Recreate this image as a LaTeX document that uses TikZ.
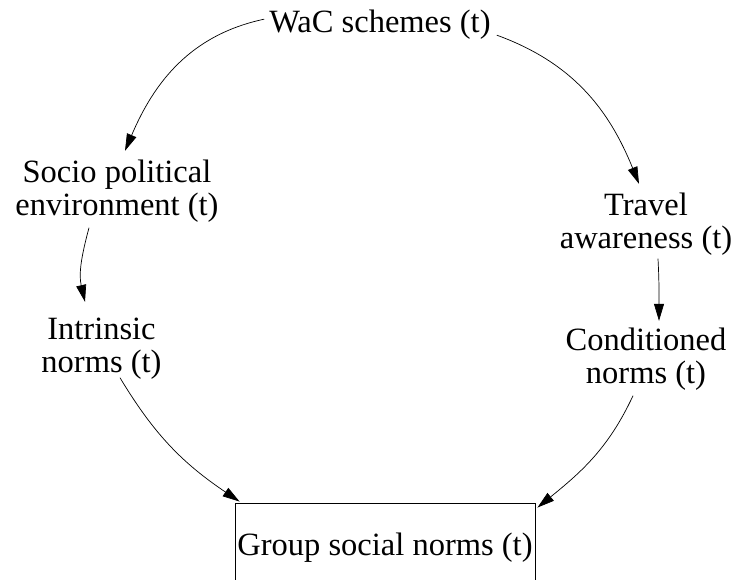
\documentclass[tikz,border=0pt]{standalone}
\usepackage{fontspec}
\setmainfont{Liberation Serif}
\usetikzlibrary{arrows.meta}
\begin{document}
\begin{tikzpicture}[x=1pt,y=1pt,
  lbl/.style={inner sep=0pt, align=center, font=\fontsize{32.5}{33}\selectfont},
  link/.style={line width=0.7pt, -{Triangle[length=17pt,width=10pt]}},
  groupbox/.style={draw, line width=0.9pt, minimum width=300pt, minimum height=88.8pt,
    inner sep=0pt, font=\fontsize{32.5}{33}\selectfont}]
\clip (0,0) rectangle (738,580);

% concept labels
\node[lbl, anchor=base] (wac) at (380,547) {WaC schemes (t)};
\node[lbl] (socio) at (117,388.7) {Socio political\\environment (t)};
\node[lbl] (travel) at (646,355.7) {Travel\\awareness (t)};
\node[lbl] (intr) at (101.5,231.2) {Intrinsic\\norms (t)};
\node[lbl] (cond) at (646,220.7) {Conditioned\\norms (t)};
\node[groupbox] (group) at (385,32.6) {Group social norms (t)};

% causal links
\draw[link] ([shift={(-5,6)}]wac.west) to[out=192,in=67] ([shift={(8,9)}]socio.north);
\draw[link] ([shift={(6,-10)}]wac.east) to[out=-20,in=112] ([shift={(-7,9)}]travel.north);
\draw[link] ([shift={(-28,-5)}]socio.south) to[out=255,in=103] ([shift={(-16.5,16)}]intr.north);
\draw[link] ([shift={(12,-3)}]travel.south) to[out=-87,in=90] ([shift={(13,7)}]cond.north);
\draw[link] ([shift={(18.5,2)}]intr.south) to[out=-59,in=146] ([shift={(5,1)}]group.north west);
\draw[link] ([shift={(-13,-5)}]cond.south) to[out=245,in=39] ([shift={(2,-5)}]group.north east);
\end{tikzpicture}
\end{document}
